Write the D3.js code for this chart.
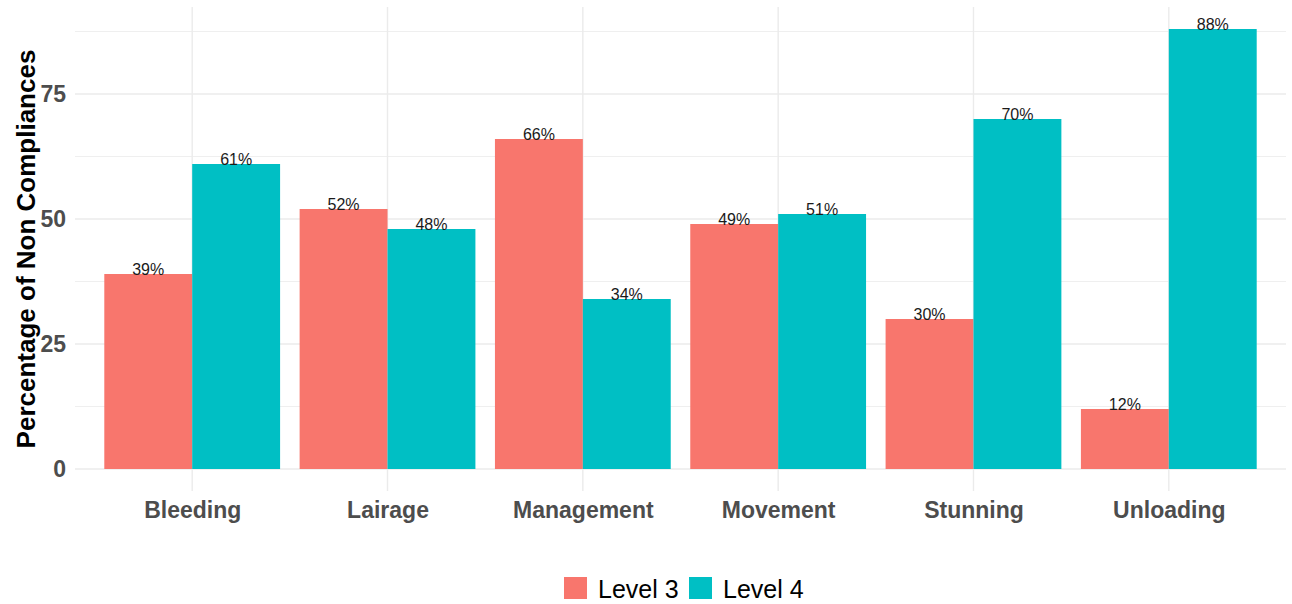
<!DOCTYPE html>
<html>
<head>
<meta charset="utf-8">
<script src="https://cdn.jsdelivr.net/npm/d3@7"></script>
<style>
  body { margin: 0; background: #fff; }
  text { font-family: "Liberation Sans", Arial, sans-serif; }
</style>
</head>
<body>
<div id="chart"></div>
<script>
var categories = ["Bleeding", "Lairage", "Management", "Movement", "Stunning", "Unloading"];
var levels = ["Level 3", "Level 4"];
var level3 = [39, 52, 66, 49, 30, 12];
var level4 = [61, 48, 34, 51, 70, 88];
var yTicks = [0, 25, 50, 75];
var colors = ["#F8766D", "#00BFC4"];

var width = 1292, height = 604;
var margin = {top: 7, right: 6, bottom: 113, left: 75};
var pw = width - margin.left - margin.right;
var ph = height - margin.top - margin.bottom;

var svg = d3.select("#chart").append("svg")
    .attr("width", width)
    .attr("height", height);

var g = svg.append("g")
    .attr("transform", "translate(" + margin.left + "," + margin.top + ")");

// discrete x scale with ggplot-like 0.6 expansion
var n = categories.length;
var x = d3.scaleLinear().domain([0.4, n + 0.6]).range([0, pw]);
var ymax = d3.max(level4.concat(level3));
var y = d3.scaleLinear().domain([-ymax * 0.05, ymax * 1.05]).range([ph, 0]);

// gridlines
var minor = d3.range(12.5, ymax * 1.05, 25);
g.selectAll(".minor").data(minor).enter().append("line")
    .attr("x1", 0).attr("x2", pw)
    .attr("y1", function(d) { return y(d); }).attr("y2", function(d) { return y(d); })
    .attr("stroke", "#ebebeb").attr("stroke-width", 0.8);
g.selectAll(".major").data(yTicks).enter().append("line")
    .attr("x1", 0).attr("x2", pw)
    .attr("y1", function(d) { return y(d); }).attr("y2", function(d) { return y(d); })
    .attr("stroke", "#ebebeb").attr("stroke-width", 1.4);
g.selectAll(".vgrid").data(categories).enter().append("line")
    .attr("x1", function(d, i) { return x(i + 1); }).attr("x2", function(d, i) { return x(i + 1); })
    .attr("y1", 0).attr("y2", ph)
    .attr("stroke", "#ebebeb").attr("stroke-width", 1.4);

// bars
var bw = (x(1) - x(0)) * 0.45;
var data = [];
categories.forEach(function(c, i) {
  data.push({cat: c, i: i, s: 0, v: level3[i]});
  data.push({cat: c, i: i, s: 1, v: level4[i]});
});
g.selectAll(".bar").data(data).enter().append("rect")
    .attr("x", function(d) { return x(d.i + 1) - bw + d.s * bw; })
    .attr("width", bw)
    .attr("y", function(d) { return y(d.v); })
    .attr("height", function(d) { return y(0) - y(d.v); })
    .attr("fill", function(d) { return colors[d.s]; });

g.selectAll(".lbl").data(data).enter().append("text")
    .attr("x", function(d) { return x(d.i + 1) - bw / 2 + d.s * bw; })
    .attr("y", function(d) { return y(d.v) + 1; })
    .attr("text-anchor", "middle")
    .attr("font-size", 16)
    .attr("fill", "#1a1a1a")
    .text(function(d) { return d.v + "%"; });

// y axis labels
var yAxis = g.append("g").call(d3.axisLeft(y).tickValues(yTicks).tickSize(0).tickPadding(9));
yAxis.select(".domain").remove();
yAxis.selectAll("text")
    .attr("font-size", 23).attr("font-weight", "bold").attr("fill", "#4d4d4d")
    .style("font-family", "Liberation Sans, Arial, sans-serif");

// x axis labels
var xAxis = g.append("g").attr("transform", "translate(0," + ph + ")")
    .call(d3.axisBottom(x).tickValues(d3.range(1, n + 1))
      .tickFormat(function(d) { return categories[d - 1]; }).tickSize(0).tickPadding(11));
xAxis.select(".domain").remove();
xAxis.selectAll("text")
    .attr("font-size", 23).attr("font-weight", "bold").attr("fill", "#4d4d4d")
    .style("font-family", "Liberation Sans, Arial, sans-serif");

// y title
svg.append("text")
    .attr("transform", "translate(35," + (margin.top + y(44)) + ") rotate(-90)")
    .attr("text-anchor", "middle")
    .attr("font-size", 26).attr("font-weight", "bold").attr("fill", "#000")
    .text("Percentage of Non Compliances");

// legend
var leg = svg.append("g").attr("transform", "translate(564,577)");
var lx = [0, 125];
levels.forEach(function(l, i) {
  leg.append("rect").attr("x", lx[i]).attr("y", 0).attr("width", 23).attr("height", 22)
      .attr("fill", colors[i]);
  leg.append("text").attr("x", lx[i] + 34).attr("y", 21)
      .attr("font-size", 25).attr("fill", "#000").text(l);
});
</script>
</body>
</html>
